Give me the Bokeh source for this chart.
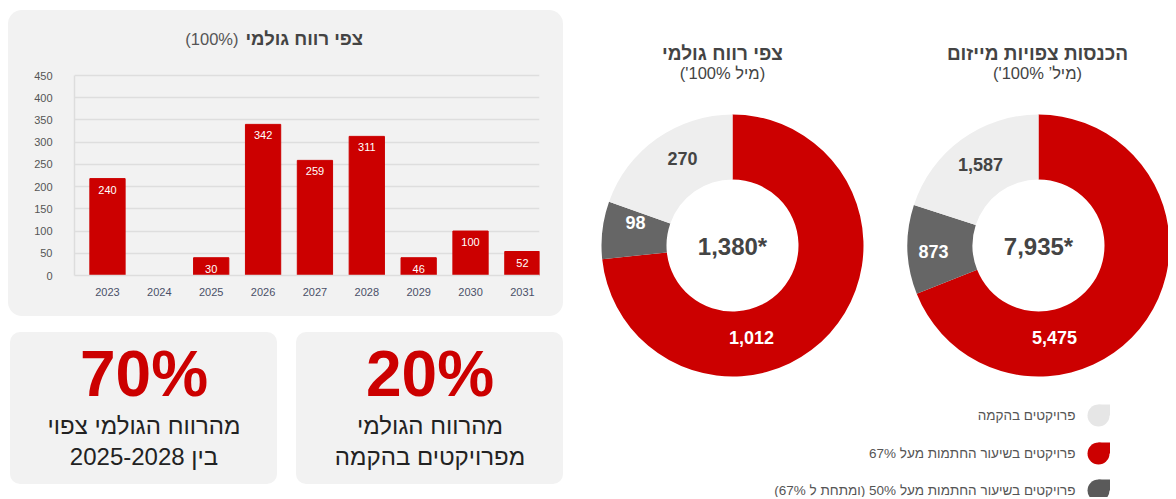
from bokeh.plotting import figure
from bokeh.models import Range1d, FixedTicker, Spacer
from bokeh.layouts import row, column
from bokeh.embed import file_html
from bokeh.resources import INLINE
from bokeh.core.properties import value
import numpy as np

FONT = "Liberation Sans"

# ---------------- data ----------------
years = ["2023", "2024", "2025", "2026", "2027", "2028", "2029", "2030", "2031"]
bar_heights = [218, 0, 40, 340, 259, 313, 40, 100, 54]
bar_labels = ["240", "", "30", "342", "259", "311", "46", "100", "52"]
y_ticks = [0, 50, 100, 150, 200, 250, 300, 350, 400, 450]

gross_values = [1012, 98, 270]
gross_labels = ["1,012", "98", "270"]
gross_total = "1,380*"

income_values = [5475, 873, 1587]
income_labels = ["5,475", "873", "1,587"]
income_total = "7,935*"

slice_colors = ["#cc0000", "#666666", "#eeeeee"]
slice_text_colors = ["#ffffff", "#ffffff", "#444444"]

legend_labels = [
    "פרויקטים בהקמה",
    "פרויקטים בשיעור החתמות מעל 67%",
    "פרויקטים בשיעור החתמות מעל 50% (ומתחת ל 67%)",
]
legend_colors = ["#e6e6e6", "#cc0000", "#5a5a5a"]

stat_values = ["70%", "20%"]
stat_line1 = ["מהרווח הגולמי צפוי", "מהרווח הגולמי"]
stat_line2 = ["בין 2025-2028", "מפרויקטים בהקמה"]

bar_title = "צפי רווח גולמי"
bar_title_note = "(100%)"
donut_titles = ["צפי רווח גולמי", "הכנסות צפויות מייזום"]
donut_subtitles = ["('מיל 100%)", "('מיל’ 100%)"]

PANEL = "#f2f2f2"
RED = "#cc0000"


def panel_style(radius):
    return {"border-radius": radius, "overflow": "hidden", "background-color": PANEL}


def blank(width, height, radius=None):
    f = figure(width=width, height=height, x_range=Range1d(0, width), y_range=Range1d(0, height),
               output_backend="svg", toolbar_location=None, x_axis_location=None,
               y_axis_location=None, min_border=0, outline_line_color=None,
               background_fill_color=None if radius else "white",
               border_fill_color=None if radius else "white",
               styles=panel_style(radius) if radius else {})
    f.xgrid.visible = False
    f.ygrid.visible = False
    return f


# ---------------- bar chart panel ----------------
FRAME_W, FRAME_H = 465, 265          # plot frame in pixels
X0, X1 = -0.636, 8.33
PX_PER_UNIT = FRAME_W / (X1 - X0)
PX_PER_VAL = 200 / 450                # 0..450 spans 200 px
Y1 = FRAME_H / PX_PER_VAL

xs = list(range(len(years)))
bp = figure(width=555, height=306, x_range=Range1d(X0, X1), y_range=Range1d(0, Y1),
            output_backend="svg", toolbar_location=None,
            min_border_left=66, min_border_right=24, min_border_top=0, min_border_bottom=41,
            background_fill_color=None, border_fill_color=None, outline_line_color=None,
            styles=panel_style("14px"))
bp.vbar(x=xs, top=bar_heights, width=0.68, fill_color=RED, line_color=RED)
bp.text(x=xs, y=bar_heights, text=bar_labels, text_align="center", text_baseline="top",
        y_offset=7, text_color="white", text_font_size="11px", text_font=value(FONT))

# title placed in the empty area above the 450 line
title_y = (FRAME_H - 28) / PX_PER_VAL
bp.text(x=[X0 + 171 / PX_PER_UNIT], y=[title_y], text=[bar_title], text_align="left",
        text_baseline="middle", text_color="#444444", text_font_size="18.5px",
        text_font_style="bold", text_font=value(FONT))
bp.text(x=[X0 + 164 / PX_PER_UNIT], y=[title_y], text=[bar_title_note], text_align="right",
        text_baseline="middle", text_color="#555555", text_font_size="16.5px",
        text_font=value(FONT))

bp.xgrid.visible = False
bp.ygrid.grid_line_color = "#dedede"
bp.ygrid.grid_line_width = 1.5
bp.yaxis.ticker = FixedTicker(ticks=y_ticks)
bp.yaxis.bounds = (0, 450)
bp.xaxis.ticker = FixedTicker(ticks=xs)
bp.xaxis.major_label_overrides = {i: y for i, y in enumerate(years)}
for ax in (bp.xaxis, bp.yaxis):
    ax.axis_line_color = "#dddddd"
    ax.axis_line_width = 1.5
    ax.major_tick_line_color = None
    ax.minor_tick_line_color = None
    ax.major_label_text_font = FONT
    ax.major_label_text_font_size = "11px"
bp.yaxis.major_label_text_color = "#555555"
bp.xaxis.major_label_text_color = "#4a5068"
bp.yaxis.major_label_standoff = 16
bp.xaxis.major_label_standoff = 6


# ---------------- stat boxes ----------------
def stat_box(big, l1, l2):
    s = blank(267, 152, "10px")
    s.text(x=[133.5], y=[111], text=[big], text_align="center", text_baseline="middle",
           text_color=RED, text_font_size="64px", text_font_style="bold", text_font=value(FONT))
    s.text(x=[133.5, 133.5], y=[59, 28], text=[l1, l2], text_align="center",
           text_baseline="middle", text_color="#222222", text_font_size="24px",
           text_font=value(FONT))
    return s


s1 = stat_box(stat_values[0], stat_line1[0], stat_line2[0])
s2 = stat_box(stat_values[1], stat_line1[1], stat_line2[1])

# ---------------- donuts panel ----------------
W, H = 605, 497
rp = blank(W, H)


def donut(cx, cy, vals, labels, total, label_offsets, title, subtitle, title_x):
    v = np.array(vals, dtype=float)
    fr = v / v.sum() * 2 * np.pi
    ends = np.cumsum(fr)
    starts = ends - fr
    rp.annular_wedge(x=cx, y=cy, inner_radius=66, outer_radius=131,
                     start_angle=np.pi / 2 - ends, end_angle=np.pi / 2 - starts,
                     fill_color=slice_colors, line_color=None)
    rp.text(x=[cx + dx for dx, dy in label_offsets], y=[cy + dy for dx, dy in label_offsets],
            text=labels, text_align="center", text_baseline="middle",
            text_color=slice_text_colors, text_font_size="18px", text_font_style="bold",
            text_font=value(FONT))
    rp.text(x=[cx], y=[cy - 1], text=[total], text_align="center", text_baseline="middle",
            text_color="#444444", text_font_size="24px", text_font_style="bold",
            text_font=value(FONT))
    rp.text(x=[title_x], y=[444], text=[title], text_align="center", text_baseline="middle",
            text_color="#444444", text_font_size="19px", text_font_style="bold",
            text_font=value(FONT))
    rp.text(x=[title_x], y=[425], text=[subtitle], text_align="center", text_baseline="middle",
            text_color="#444444", text_font_size="16.5px", text_font=value(FONT))


donut(169, 252, gross_values, gross_labels, gross_total,
      [(19, -92), (-97, 23), (-50, 87)], donut_titles[0], donut_subtitles[0], 159)
donut(475, 252, income_values, income_labels, income_total,
      [(16, -92), (-105, -6), (-58, 81)], donut_titles[1], donut_subtitles[1], 474)

# legend
leg_y = [82, 44, 7]
icon_x = 535
rp.scatter(x=[icon_x] * 3, y=leg_y, size=22, marker="circle", fill_color=legend_colors,
           line_color=None)
rp.quad(left=[icon_x] * 3, right=[icon_x + 11.5] * 3, bottom=leg_y,
        top=[y + 11 for y in leg_y], fill_color=legend_colors, line_color=None)
rp.text(x=[512] * 3, y=leg_y, text=legend_labels, text_align="right", text_baseline="middle",
        text_color="#555555", text_font_size="13.5px", text_font=value(FONT))

left = column(Spacer(height=10), bp, Spacer(height=16),
              row(Spacer(width=2), s1, Spacer(width=19), s2), spacing=0)
root = row(Spacer(width=8), left, rp, spacing=0)
open("out.html", "w").write(file_html(root, INLINE))
